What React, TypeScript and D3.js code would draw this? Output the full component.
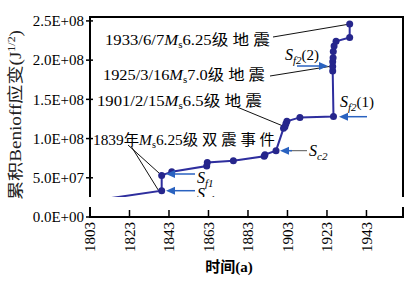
import React from 'react';
import * as d3 from 'd3';

// cumulative Benioff strain
const years = [1813, 1839.3, 1839.3, 1844.4, 1862.1, 1862.4, 1875.6, 1891.2, 1891.6, 1897.2,
  1901.0, 1901.7, 1902.2, 1902.7, 1909.3, 1926.3, 1925.9, 1925.9, 1925.9, 1926.1, 1926.2,
  1926.6, 1927.6, 1934.5, 1934.5];
const strain = [2.4e7, 3.35e7, 5.3e7, 5.78e7, 6.5e7, 6.95e7, 7.18e7, 7.75e7, 7.95e7, 8.46e7,
  1.13e8, 1.15e8, 1.19e8, 1.22e8, 1.27e8, 1.28e8, 1.86e8, 1.92e8, 1.98e8, 2.03e8, 2.11e8,
  2.18e8, 2.24e8, 2.29e8, 2.46e8];
const markerFrom = 1; // first point has no marker (line fades in)

const xTicks = [1803, 1823, 1843, 1863, 1883, 1903, 1923, 1943];
const yTicks = [0, 5e7, 1e8, 1.5e8, 2e8, 2.5e8];
const yTickLabels = ['0.0E+00', '5.0E+07', '1.0E+08', '1.5E+08', '2.0E+08', '2.5E+08'];

const W = 415, H = 283;
const left = 90, right = 403, top = 17, bottom = 217;
const serif = '"Liberation Serif", "Times New Roman", "Noto Sans CJK SC", serif';
const lineColor = '#2e2e9e';
const arrowColor = '#2a62c0';

const x = d3.scaleLinear().domain([1803, 1961.5]).range([left, right]);
const y = d3.scaleLinear().domain([0, 2.55e8]).range([bottom, top]);

function Arrow({ x1, x2, yy, color = arrowColor }: { x1: number; x2: number; yy: number; color?: string }) {
  // tail at x1, tip at x2
  const dir = x2 > x1 ? 1 : -1;
  const hl = 9, hw = 4;
  return (
    <g>
      <line x1={x1} y1={yy} x2={x2 - dir * hl} y2={yy} stroke={color} strokeWidth={1.5} />
      <polygon points={`${x2},${yy} ${x2 - dir * hl},${yy - hw} ${x2 - dir * hl},${yy + hw}`} fill={color} />
    </g>
  );
}

function QuakeText({ tx, ty, pre, post, len }: { tx: number; ty: number; pre: string; post: string; len: number }) {
  return (
    <text x={tx} y={ty} fontSize={15} fontFamily={serif} textLength={len} lengthAdjust="spacingAndGlyphs">
      {pre}
      <tspan fontStyle="italic">M</tspan>
      <tspan fontSize={10} dy={3}>s</tspan>
      <tspan dy={-3}>{post}</tspan>
    </text>
  );
}

function SLabel({ tx, ty, sub, tail }: { tx: number; ty: number; sub: string; tail?: string }) {
  return (
    <text x={tx} y={ty} fontSize={16} fontFamily={serif}>
      <tspan fontStyle="italic">S</tspan>
      <tspan fontStyle="italic" fontSize={11} dy={4}>{sub}</tspan>
      {tail ? <tspan dy={-4} fontSize={15}>{tail}</tspan> : null}
    </text>
  );
}

export default function App() {
  const pts = years.map((yr, i) => [x(yr), y(strain[i])] as [number, number]);
  const path = d3.line()(pts) || '';

  return (
    <svg width={W} height={H} style={{ position: 'absolute', left: 0, top: 0, background: '#fff' }}>
      {/* frame */}
      <rect x={left} y={top} width={right - left} height={bottom - top} fill="none" stroke="#000" strokeWidth={2} />

      {/* y ticks */}
      {yTicks.map((t, i) => (
        <g key={t}>
          <line x1={left - 4} x2={left + 3} y1={y(t)} y2={y(t)} stroke="#000" strokeWidth={1.5} />
          <text x={84} y={y(t)} dy="0.35em" textAnchor="end" fontSize={15} fontFamily={serif}>{yTickLabels[i]}</text>
        </g>
      ))}

      {/* x ticks */}
      {xTicks.map(t => (
        <g key={t}>
          <line x1={x(t)} x2={x(t)} y1={bottom} y2={bottom - 7} stroke="#000" strokeWidth={1.5} />
          <text transform={`translate(${x(t)},${bottom + 5}) rotate(-90)`} dy="0.35em" textAnchor="end"
            fontSize={15} fontFamily={serif}>{t}</text>
        </g>
      ))}

      {/* axis titles */}
      <text transform="translate(15,115) rotate(-90)" dy="0.35em" textAnchor="middle" fontSize={16}
        fontFamily={serif} fill="#222" textLength={170} lengthAdjust="spacingAndGlyphs">
        累积Benioff应变(J<tspan fontSize={10} dy={-6}>1/2</tspan><tspan dy={6}>)</tspan>
      </text>
      <text x={229} y={272} textAnchor="middle" fontSize={15} fontWeight="bold" fontFamily={serif}>时间(a)</text>

      {/* leader lines */}
      <g stroke="#111" strokeWidth={1}>
        <line x1={273} y1={37} x2={x(1934.5)} y2={y(2.46e8)} />
        <line x1={270} y1={76} x2={x(1925.9) - 3} y2={y(1.92e8)} />
        <line x1={237} y1={107} x2={x(1901.7)} y2={y(1.15e8)} />
        <line x1={128} y1={145} x2={x(1839.3)} y2={y(5.3e7)} />
        <line x1={131} y1={146} x2={x(1839.3) - 3} y2={y(3.35e7)} />
        <line x1={290} y1={150.7} x2={307} y2={150.7} stroke="#555" />
      </g>

      {/* data */}
      <path d={path} fill="none" stroke={lineColor} strokeWidth={2} />
      {pts.slice(markerFrom).map((p, i) => (
        <circle key={i} cx={p[0]} cy={p[1]} r={3.5} fill="#26268c" />
      ))}

      {/* arrows */}
      <Arrow x1={297} x2={328} yy={66} />
      <Arrow x1={367} x2={339} yy={116.7} />
      <Arrow x1={195} x2={166} yy={174} />
      <Arrow x1={195} x2={166} yy={190.7} />
      <Arrow x1={292} x2={280} yy={150.7} />

      {/* annotation texts */}
      <QuakeText tx={105} ty={45} pre="1933/6/7" post="6.25级 地 震" len={165} />
      <QuakeText tx={103} ty={80} pre="1925/3/16" post="7.0级 地 震" len={162} />
      <QuakeText tx={97} ty={106} pre="1901/2/15" post="6.5级 地 震" len={165} />
      <QuakeText tx={93} ty={145} pre="1839年" post="6.25级 双 震 事 件" len={182} />

      <SLabel tx={285} ty={60} sub="f2" tail="(2)" />
      <SLabel tx={340} ty={107} sub="f2" tail="(1)" />
      <SLabel tx={197} ty={183} sub="f1" />
      <SLabel tx={197} ty={199} sub="c1" />
      <SLabel tx={309} ty={156} sub="c2" />

      {/* white band from the source scan */}
      <rect x={80} y={197} width={335} height={10} fill="#fff" />
    </svg>
  );
}
